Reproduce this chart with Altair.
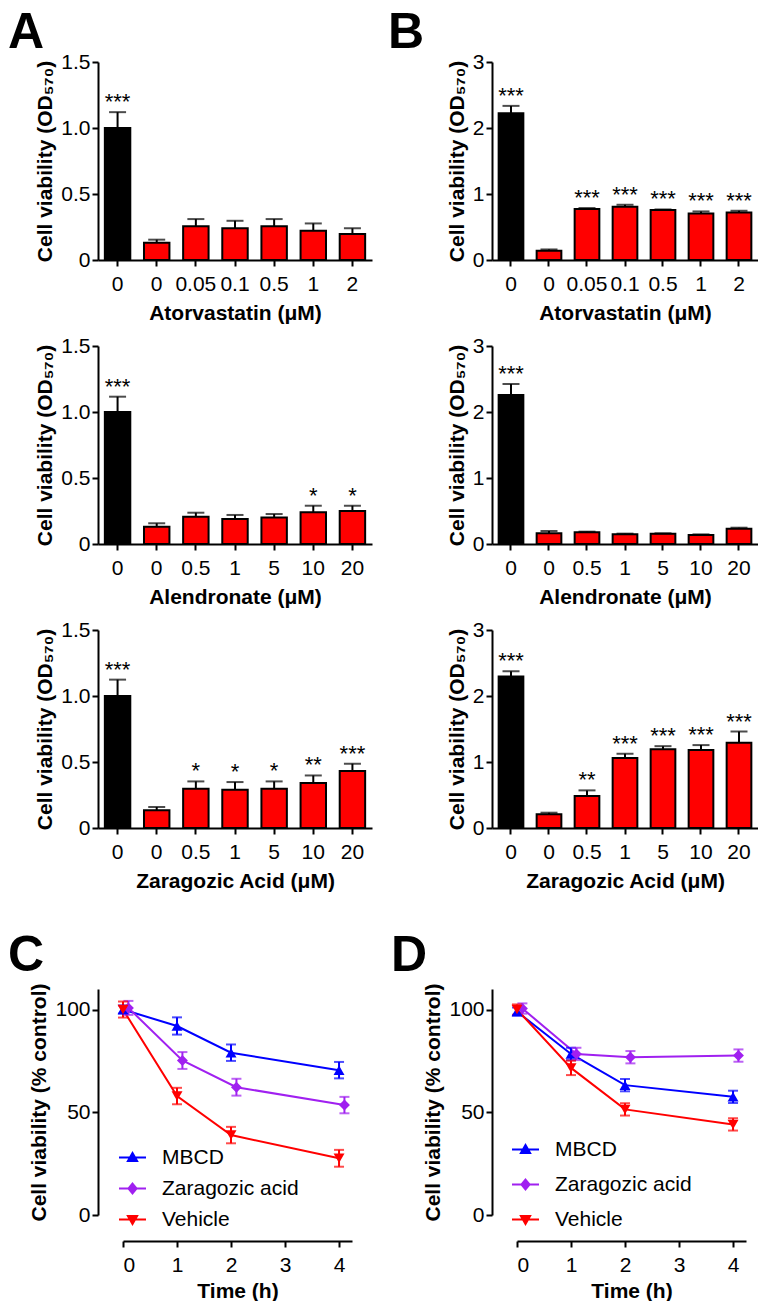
import altair as alt
import pandas as pd

FONT = "Liberation Sans"
RED = "#FF0000"

# ---------------- bar panel data ----------------
ator_labels = ["0", "0", "0.05", "0.1", "0.5", "1", "2"]
alen_labels = ["0", "0", "0.5", "1", "5", "10", "20"]
zara_labels = ["0", "0", "0.5", "1", "5", "10", "20"]

a1_mean = [1.00, 0.13, 0.255, 0.24, 0.255, 0.222, 0.197]
a1_top = [1.12, 0.154, 0.31, 0.297, 0.31, 0.277, 0.24]
a1_sig = ["***", "", "", "", "", "", ""]

a2_mean = [1.00, 0.131, 0.207, 0.189, 0.20, 0.24, 0.25]
a2_top = [1.116, 0.157, 0.237, 0.22, 0.227, 0.29, 0.29]
a2_sig = ["***", "", "", "", "", "*", "*"]

a3_mean = [1.00, 0.134, 0.297, 0.29, 0.297, 0.34, 0.431]
a3_top = [1.124, 0.159, 0.353, 0.348, 0.353, 0.398, 0.487]
a3_sig = ["***", "", "*", "*", "*", "**", "***"]

b1_mean = [2.224, 0.141, 0.772, 0.807, 0.756, 0.706, 0.721]
b1_top = [2.335, 0.16, 0.787, 0.837, 0.766, 0.736, 0.746]
b1_sig = ["***", "", "***", "***", "***", "***", "***"]

b2_mean = [2.258, 0.162, 0.177, 0.146, 0.157, 0.136, 0.232]
b2_top = [2.424, 0.197, 0.187, 0.157, 0.162, 0.146, 0.247]
b2_sig = ["***", "", "", "", "", "", ""]

b3_mean = [2.294, 0.207, 0.484, 1.059, 1.195, 1.18, 1.291]
b3_top = [2.375, 0.232, 0.57, 1.125, 1.24, 1.256, 1.462]
b3_sig = ["***", "", "**", "***", "***", "***", "***"]

# ---------------- line panel data ----------------
series = ["MBCD", "Zaragozic acid", "Vehicle"]
colors = ["#0000FF", "#A020F0", "#FF0000"]
shapes = ["triangle-up", "diamond", "triangle-down"]
legend_shapes = [
    "M-1,0L1,0M0,-0.34L0.34,0.26L-0.34,0.26Z",
    "M-1,0L1,0M0,-0.36L0.3,0L0,0.36L-0.3,0Z",
    "M-1,0L1,0M0,0.34L0.34,-0.26L-0.34,-0.26Z",
]

c_t = [[0, 1, 2, 4], [0.1, 1.1, 2.1, 4.1], [0, 1, 2, 4]]
c_mean = [[100, 92, 79, 70.5], [100.8, 75.2, 62.2, 53.5], [100, 57.9, 38.9, 27.6]]
c_err = [[2, 4.2, 4, 4], [3.4, 4.1, 4.1, 4], [3.9, 4, 4, 4.1]]

d_t = [[0, 1, 2, 4], [0.1, 1.1, 2.1, 4.1], [0, 1, 2, 4]]
d_mean = [[99, 78.4, 63.2, 57.5], [100.5, 78.4, 76.8, 77.6], [100, 71.6, 51.4, 44.1]]
d_err = [[2, 3, 3, 3], [2.5, 3, 3, 3], [2.5, 3.5, 3, 3]]


def letter_title(txt, dx, dy):
    return alt.TitleParams(text=txt, anchor="start", frame="group", fontSize=50,
                           fontWeight="bold", font=FONT, color="black",
                           dx=dx, dy=dy, offset=0)


def bar_panel(labels, mean, top, sig, ymax, yticks, ylabel_expr, xtitle, width,
              letter=None, ldx=0, ldy=0):
    n = len(labels)
    df = pd.DataFrame({"i": list(range(n)), "mean": mean, "top": top, "sig": sig,
                       "grp": ["ctrl"] + ["trt"] * (n - 1)})
    lab_js = "[" + ",".join("'%s'" % s for s in labels) + "]"
    xax = alt.Axis(title=xtitle, labelExpr=lab_js + "[datum.value]", labelAngle=0,
                   labelOverlap=False)
    xsc = alt.Scale(paddingInner=0.35, paddingOuter=0.175)
    ysc = alt.Scale(domain=[0, ymax], nice=False)
    yax = alt.Axis(title="Cell viability (OD₅₇₀)", values=yticks, labelExpr=ylabel_expr)

    def X():
        return alt.X("i:O", scale=xsc, axis=xax)

    def Y(f):
        return alt.Y(f, scale=ysc, axis=yax)

    base = alt.Chart(df)
    bars = base.mark_bar(stroke="black", strokeWidth=2).encode(
        x=X(), y=Y("mean:Q"),
        color=alt.Color("grp:N", scale=alt.Scale(domain=["ctrl", "trt"], range=["#000000", RED]),
                        legend=None))
    err = base.mark_rule(color="black", strokeWidth=2).encode(x=X(), y=Y("mean:Q"), y2="top:Q")
    cap = base.mark_tick(color="black", thickness=2, size=17, orient="horizontal").encode(
        x=X(), y=Y("top:Q"))
    txt = base.mark_text(font=FONT, fontSize=22, baseline="alphabetic", dy=-3, color="black").encode(
        x=X(), y=Y("top:Q"), text="sig:N")
    ch = alt.layer(bars, err, cap, txt).properties(width=width, height=198)
    if letter:
        ch = ch.properties(title=letter_title(letter, ldx, ldy))
    return ch


def line_panel(times, means, errs, letter, ldx, ldy, leg_x, leg_y, row_pad):
    rows = []
    for s, ts, ms, es in zip(series, times, means, errs):
        for t, m, e in zip(ts, ms, es):
            rows.append({"series": s, "t": t, "m": m, "lo": m - e, "hi": m + e})
    df = pd.DataFrame(rows)
    xsc = alt.Scale(domain=[0, 4.24], range=[25, 254], nice=False, zero=False)
    ysc = alt.Scale(domain=[0, 110], range=[301, 75], nice=False)
    xax = alt.Axis(title="Time (h)", values=[0, 1, 2, 3, 4], format="d", titlePadding=5)
    yax = alt.Axis(title="Cell viability (% control)", values=[0, 50, 100], format="d")
    col = alt.Color("series:N", scale=alt.Scale(domain=series, range=colors), legend=None)

    def X(f):
        return alt.X(f, scale=xsc, axis=xax)

    def Y(f):
        return alt.Y(f, scale=ysc, axis=yax)

    base = alt.Chart(df)
    line = base.mark_line(strokeWidth=2).encode(x=X("t:Q"), y=Y("m:Q"), color=col)
    rule = base.mark_rule(strokeWidth=2).encode(x=X("t:Q"), y=Y("lo:Q"), y2="hi:Q", color=col)
    cap_lo = base.mark_tick(orient="horizontal", size=10, thickness=2).encode(
        x=X("t:Q"), y=Y("lo:Q"), color=col)
    cap_hi = base.mark_tick(orient="horizontal", size=10, thickness=2).encode(
        x=X("t:Q"), y=Y("hi:Q"), color=col)
    pts = base.mark_point(filled=True, size=120, opacity=1).encode(
        x=X("t:Q"), y=Y("m:Q"), color=col,
        shape=alt.Shape("series:N", scale=alt.Scale(domain=series, range=shapes), legend=None))
    leg = alt.Legend(title=None, orient="none", legendX=leg_x, legendY=leg_y, symbolSize=729,
                     symbolStrokeWidth=2, symbolOpacity=1, labelFont=FONT, labelFontSize=21,
                     labelColor="black", labelOffset=15, rowPadding=row_pad, padding=0,
                     labelLimit=400)
    legend_layer = base.transform_filter("false").mark_point(
        filled=True, size=729, opacity=1, strokeWidth=2).encode(
        fill=alt.Fill("series:N", scale=alt.Scale(domain=series, range=colors), legend=leg),
        stroke=alt.Stroke("series:N", scale=alt.Scale(domain=series, range=colors), legend=leg),
        shape=alt.Shape("series:N", scale=alt.Scale(domain=series, range=legend_shapes), legend=leg))
    ch = alt.layer(line, rule, cap_lo, cap_hi, pts, legend_layer).resolve_scale(
        shape="independent", fill="independent", stroke="independent").properties(
        width=254, height=327, title=letter_title(letter, ldx, ldy))
    return ch


A_EXPR = "datum.value == 0 ? '0' : format(datum.value, '.1f')"
B_EXPR = "format(datum.value, 'd')"

A1 = bar_panel(ator_labels, a1_mean, a1_top, a1_sig, 1.5, [0, 0.5, 1, 1.5], A_EXPR,
               "Atorvastatin (μM)", 274, "A", -90, 7)
B1 = bar_panel(ator_labels, b1_mean, b1_top, b1_sig, 3, [0, 1, 2, 3], B_EXPR,
               "Atorvastatin (μM)", 266, "B", -104, 7)
A2 = bar_panel(alen_labels, a2_mean, a2_top, a2_sig, 1.5, [0, 0.5, 1, 1.5], A_EXPR,
               "Alendronate (μM)", 274)
B2 = bar_panel(alen_labels, b2_mean, b2_top, b2_sig, 3, [0, 1, 2, 3], B_EXPR,
               "Alendronate (μM)", 266)
A3 = bar_panel(zara_labels, a3_mean, a3_top, a3_sig, 1.5, [0, 0.5, 1, 1.5], A_EXPR,
               "Zaragozic Acid (μM)", 274)
B3 = bar_panel(zara_labels, b3_mean, b3_top, b3_sig, 3, [0, 1, 2, 3], B_EXPR,
               "Zaragozic Acid (μM)", 266)
C = line_panel(c_t, c_mean, c_err, "C", -90, 67, 20, 229, 6)
D = line_panel(d_t, d_mean, d_err, "D", -101, 67, 19, 221, 10)

chart = alt.concat(A1, B1, A2, B2, A3, B3, C, D, columns=2,
                   spacing={"row": 86, "column": 120}, bounds="flush", align="each")
chart = chart.resolve_scale(color="independent", fill="independent",
                            stroke="independent", shape="independent")
chart = chart.properties(padding=0).configure_view(stroke=None).configure_axis(
    grid=False, domainColor="black", domainWidth=2, tickColor="black", tickWidth=2,
    tickSize=6, labelColor="black", labelFont=FONT, labelFontSize=21, titleFont=FONT,
    titleFontSize=21, titleFontWeight="bold", titleColor="black"
).configure_axisX(labelPadding=7, titlePadding=8).configure_axisY(labelPadding=2, titlePadding=5)

chart.save("out.html", embed_options={"renderer": "svg", "actions": False})
